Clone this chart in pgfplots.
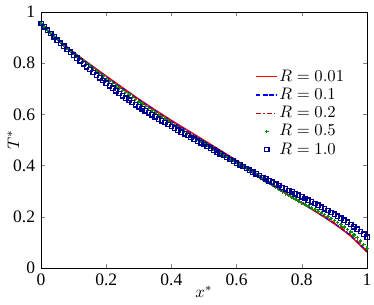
\documentclass[border=0pt]{standalone}
\usepackage{fontspec}
\setmainfont{Liberation Serif}
\usepackage{pgfplots}
\usepackage{pgfplotstable}
\pgfplotsset{compat=1.18}
\definecolor{mred}{RGB}{255,0,0}
\definecolor{mblue}{RGB}{0,0,255}
\definecolor{mdred}{RGB}{190,0,0}
\definecolor{mgreen}{RGB}{0,140,0}
\definecolor{mnavy}{RGB}{0,0,140}

% lines: R=0.01, R=0.1, R=0.2
\pgfplotstableread{
x     r001   r01    r02
0.00  0.955  0.955  0.955
0.05  0.894  0.893  0.892
0.10  0.843  0.841  0.839
0.15  0.796  0.794  0.791
0.20  0.750  0.747  0.744
0.25  0.705  0.702  0.699
0.30  0.660  0.657  0.654
0.35  0.618  0.615  0.612
0.40  0.577  0.574  0.571
0.45  0.538  0.535  0.532
0.50  0.499  0.496  0.493
0.55  0.460  0.457  0.455
0.60  0.420  0.418  0.416
0.65  0.378  0.377  0.376
0.70  0.335  0.335  0.334
0.75  0.293  0.293  0.293
0.80  0.253  0.254  0.254
0.85  0.214  0.215  0.216
0.90  0.172  0.174  0.176
0.95  0.124  0.126  0.129
1.00  0.062  0.065  0.068
}\linedata

% markers: R=0.5 (g), R=1.0 (s)
\pgfplotstableread{
x     g      s
0.00  0.955  0.955
0.01  0.942  0.942
0.02  0.929  0.929
0.03  0.917  0.916
0.04  0.904  0.903
0.05  0.892  0.890
0.06  0.881  0.878
0.07  0.870  0.866
0.08  0.859  0.854
0.09  0.848  0.843
0.10  0.838  0.832
0.11  0.828  0.820
0.12  0.818  0.809
0.13  0.808  0.797
0.14  0.798  0.786
0.15  0.788  0.775
0.16  0.778  0.764
0.17  0.769  0.753
0.18  0.759  0.743
0.19  0.750  0.732
0.20  0.740  0.722
0.21  0.731  0.712
0.22  0.722  0.702
0.23  0.712  0.692
0.24  0.703  0.682
0.25  0.694  0.673
0.26  0.685  0.664
0.27  0.676  0.655
0.28  0.667  0.647
0.29  0.658  0.638
0.30  0.649  0.630
0.31  0.640  0.622
0.32  0.632  0.614
0.33  0.623  0.606
0.34  0.615  0.598
0.35  0.606  0.590
0.36  0.598  0.582
0.37  0.590  0.575
0.38  0.581  0.568
0.39  0.573  0.560
0.40  0.565  0.553
0.41  0.557  0.546
0.42  0.549  0.539
0.43  0.541  0.531
0.44  0.534  0.524
0.45  0.526  0.517
0.46  0.518  0.510
0.47  0.511  0.503
0.48  0.503  0.496
0.49  0.496  0.489
0.50  0.488  0.482
0.51  0.480  0.475
0.52  0.473  0.468
0.53  0.465  0.460
0.54  0.458  0.453
0.55  0.450  0.446
0.56  0.442  0.439
0.57  0.435  0.432
0.58  0.427  0.424
0.59  0.420  0.417
0.60  0.412  0.410
0.61  0.404  0.403
0.62  0.396  0.396
0.63  0.388  0.389
0.64  0.380  0.382
0.65  0.372  0.375
0.66  0.364  0.368
0.67  0.356  0.361
0.68  0.348  0.354
0.69  0.339  0.348
0.70  0.331  0.341
0.71  0.323  0.335
0.72  0.315  0.328
0.73  0.306  0.322
0.74  0.298  0.315
0.75  0.290  0.309
0.76  0.283  0.303
0.77  0.276  0.297
0.78  0.269  0.290
0.79  0.262  0.284
0.80  0.255  0.278
0.81  0.248  0.271
0.82  0.242  0.265
0.83  0.235  0.258
0.84  0.229  0.252
0.85  0.222  0.245
0.86  0.215  0.238
0.87  0.208  0.231
0.88  0.201  0.224
0.89  0.194  0.217
0.90  0.186  0.210
0.91  0.178  0.203
0.92  0.169  0.195
0.93  0.160  0.187
0.94  0.150  0.179
0.95  0.140  0.170
0.96  0.129  0.161
0.97  0.118  0.152
0.98  0.105  0.142
0.99  0.092  0.132
1.00  0.077  0.121
}\markdata

\begin{document}
\begin{tikzpicture}
\path[use as bounding box] (0,0) rectangle (224.4pt,182.4pt);
\begin{axis}[
  at={(24.6pt,21.6pt)}, anchor=south west,
  scale only axis,
  width=195.6pt, height=153.6pt,
  xmin=0, xmax=1, ymin=0, ymax=1,
  xtick={0,0.2,0.4,0.6,0.8,1},
  ytick={0,0.2,0.4,0.6,0.8,1},
  tick align=inside,
  major tick length=2.4pt,
  /pgf/number format/assume math mode=true,
  ticklabel style={font=\fontsize{10.5}{12}\selectfont},
  xlabel={$x^*$}, ylabel={$T^*$},
  xlabel style={at={(axis description cs:0.5,-0.094)}, anchor=center},
  ylabel style={at={(axis description cs:-0.085,0.5)}, anchor=center},
  legend style={draw=none, fill=none, at={(axis description cs:0.642,0.797)}, anchor=north west,
    nodes={inner ysep=1.3pt, inner xsep=1pt}},
  legend cell align=left,
  legend image code/.code={
    \draw[mark repeat=2,mark phase=2,#1] plot coordinates {(0cm,0cm) (0.22cm,0cm) (0.44cm,0cm)};
  },
]
\addplot[mred, line width=0.8pt, smooth, no markers] table[x=x,y=r001] {\linedata};
\addlegendentry{$R = 0.01$}
\addplot[mblue, line width=0.8pt, dash pattern=on 2.4pt off 1.5pt, smooth, no markers] table[x=x,y=r01] {\linedata};
\addlegendentry{$R = 0.1$}
\addplot[mdred, line width=0.8pt, dash pattern=on 3pt off 1.3pt on 0.8pt off 1.3pt, smooth, no markers] table[x=x,y=r02] {\linedata};
\addlegendentry{$R = 0.2$}
\addplot[mgreen, only marks, mark=+, mark size=1.1pt, line width=0.8pt] table[x=x,y=g] {\markdata};
\addlegendentry{$R = 0.5$}
\addplot[mnavy, only marks, mark=square, mark size=1.3pt, line width=0.8pt] table[x=x,y=s] {\markdata};
\addlegendentry{$R = 1.0$}
\end{axis}
\end{tikzpicture}
\end{document}
